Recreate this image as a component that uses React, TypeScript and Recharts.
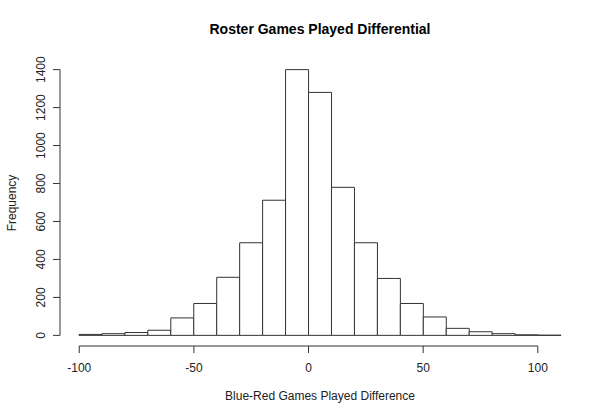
import { ComposedChart, Bar, Line, XAxis, YAxis, ReferenceLine } from "recharts"

// histogram bins (left edge, width 10) and their counts
const binStarts = [-100, -90, -80, -70, -60, -50, -40, -30, -20, -10, 0, 10, 20, 30, 40, 50, 60, 70, 80, 90, 100]
const binMids = [-95, -85, -75, -65, -55, -45, -35, -25, -15, -5, 5, 15, 25, 35, 45, 55, 65, 75, 85, 95, 105]
const counts = [5, 9, 15, 27, 92, 168, 306, 488, 712, 1400, 1280, 780, 488, 300, 168, 97, 37, 19, 9, 3, 1]

const xTicks = [-100, -50, 0, 50, 100]
const yTicks = [0, 200, 400, 600, 800, 1000, 1200, 1400]

const data = binStarts.map((start, i) => ({ bin: start, mid: binMids[i], count: counts[i] }))

const FONT = "'Liberation Sans', Arial, sans-serif"
const INK = "#333"

const YTick = (props: any) => {
  const { x, y, payload } = props
  const tx = x - 2
  return (
    <text
      x={tx}
      y={y}
      transform={`rotate(-90, ${tx}, ${y})`}
      textAnchor="middle"
      fontSize={12}
      fontFamily={FONT}
      fill="#222"
    >
      {payload.value}
    </text>
  )
}

export default function App() {
  return (
    <div style={{ position: "absolute", left: 0, top: 0, width: 600, height: 420, background: "#fff" }}>
      <div
        style={{
          position: "absolute",
          left: 0,
          width: 640,
          top: 21,
          textAlign: "center",
          fontFamily: FONT,
          fontWeight: "bold",
          fontSize: 14,
          color: "#000",
        }}
      >
        Roster Games Played Differential
      </div>
      <ComposedChart
        width={600}
        height={420}
        data={data}
        margin={{ top: 59, right: 20, bottom: 0, left: 0 }}
        barCategoryGap={0}
        barGap={0}
      >
        <XAxis xAxisId="bins" dataKey="bin" type="category" hide height={0} padding={{ left: 19, right: 19 }} />
        <XAxis
          xAxisId="num"
          dataKey="mid"
          type="number"
          domain={[-108.4, 118.4]}
          ticks={xTicks}
          interval={0}
          allowDataOverflow
          axisLine={false}
          tickLine={{ stroke: INK }}
          tickSize={7}
          tickMargin={10}
          height={74}
          tick={{ fill: "#222", fontSize: 12, fontFamily: FONT }}
        />
        <YAxis
          type="number"
          domain={[-56, 1456]}
          ticks={yTicks}
          interval={0}
          allowDataOverflow
          axisLine={false}
          tickLine={{ stroke: INK }}
          tickSize={7}
          tickMargin={6}
          width={60}
          tick={<YTick />}
        />
        <Bar
          xAxisId="bins"
          dataKey="count"
          fill="#fff"
          stroke={INK}
          strokeWidth={1}
          isAnimationActive={false}
        />
        {/* invisible series so the numeric axis gets its scale */}
        <Line
          xAxisId="num"
          dataKey="count"
          stroke="none"
          dot={false}
          activeDot={false}
          isAnimationActive={false}
        />
        <ReferenceLine
          xAxisId="num"
          segment={[{ x: -108.4, y: 0 }, { x: -108.4, y: 1400 }]}
          stroke={INK}
          ifOverflow="visible"
        />
        <ReferenceLine
          xAxisId="num"
          segment={[{ x: -100, y: -56 }, { x: 100, y: -56 }]}
          stroke={INK}
          ifOverflow="visible"
        />
      </ComposedChart>
      <div
        style={{
          position: "absolute",
          left: 0,
          width: 640,
          top: 389,
          textAlign: "center",
          fontFamily: FONT,
          fontSize: 12,
          color: "#222",
        }}
      >
        Blue-Red Games Played Difference
      </div>
      <div
        style={{
          position: "absolute",
          left: 12,
          top: 203,
          transform: "translate(-50%, -50%) rotate(-90deg)",
          fontFamily: FONT,
          fontSize: 12,
          color: "#222",
          whiteSpace: "nowrap",
        }}
      >
        Frequency
      </div>
    </div>
  )
}
